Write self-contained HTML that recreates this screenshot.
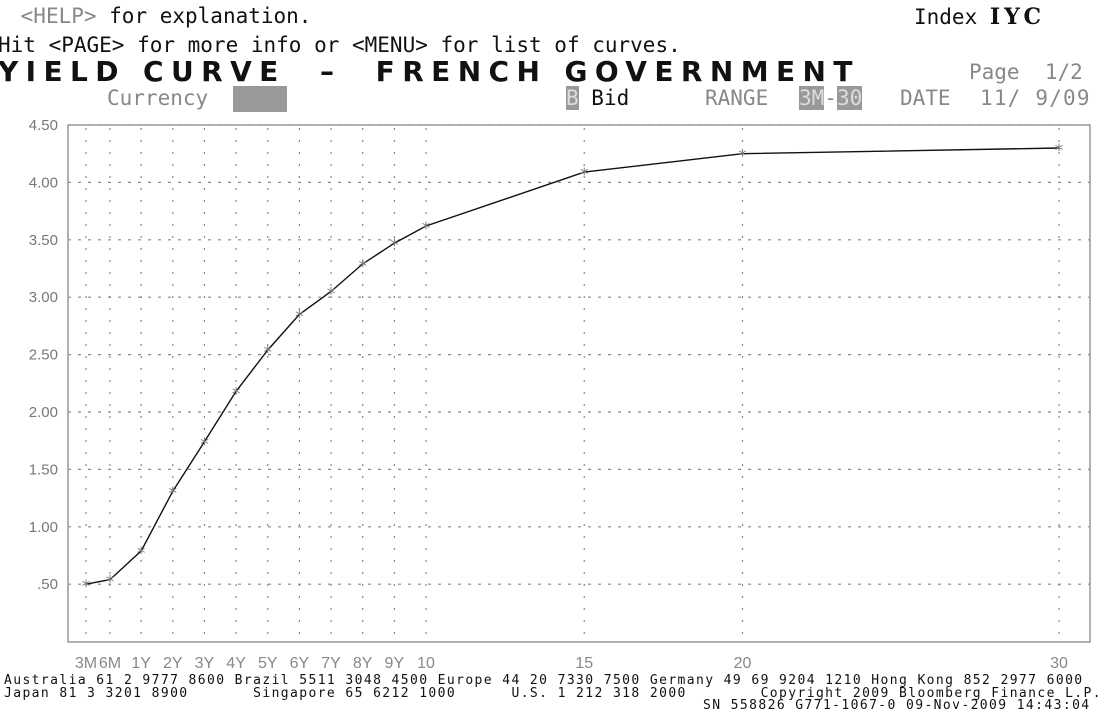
<!DOCTYPE html>
<html><head><meta charset="utf-8"><style>
body{margin:0;width:1098px;height:717px;background:#fff;overflow:hidden;position:relative;font-family:"DejaVu Sans Mono","Liberation Mono",monospace}
.t{position:absolute;white-space:pre;line-height:1}
.hd{font-size:21px;color:#111}
.gr{color:#888}
.title{font-family:"DejaVu Sans","Liberation Sans",sans-serif;font-weight:bold;font-size:28px;letter-spacing:7.4px;color:#111}
.ft{font-family:"DejaVu Sans Mono","Liberation Mono",monospace;font-size:13px;letter-spacing:1.4px;color:#111}
.hl{background:#999;color:#ddd}
</style></head><body>
<div class="t hd" style="left:8px;top:6px"> <span class="gr">&lt;HELP&gt;</span> for explanation.</div>
<div class="t hd" style="left:-2px;top:35px">Hit &lt;PAGE&gt; for more info or &lt;MENU&gt; for list of curves.</div>
<div class="t hd" style="left:914px;top:6px">Index <b style="font-family:'DejaVu Serif',serif;letter-spacing:4px;font-size:22px">IYC</b></div>
<div class="t title" style="left:-2px;top:58px">YIELD CURVE  –  FRENCH GOVERNMENT</div>
<div class="t hd gr" style="left:969px;top:62px">Page  1/2</div>
<div class="t hd gr" style="left:107px;top:88px">Currency</div>
<div style="position:absolute;left:233px;top:86px;width:54px;height:26px;background:#999"></div>
<div class="t hd" style="left:566px;top:88px"><span class="hl">B</span> Bid</div>
<div class="t hd gr" style="left:705px;top:88px">RANGE</div>
<div class="t hd gr" style="left:799px;top:88px"><span class="hl">3M</span>-<span class="hl">30</span></div>
<div class="t hd gr" style="left:900px;top:88px">DATE</div>
<div class="t hd gr" style="left:980px;top:88px;letter-spacing:1.2px">11/ 9/09</div>

<svg id="chart" width="1098" height="717" style="position:absolute;left:0;top:0"></svg>

<div class="t ft" style="left:4px;top:674px">Australia 61 2 9777 8600 Brazil 5511 3048 4500 Europe 44 20 7330 7500 Germany 49 69 9204 1210 Hong Kong 852 2977 6000</div>
<div class="t ft" style="left:4px;top:687px">Japan 81 3 3201 8900       Singapore 65 6212 1000      U.S. 1 212 318 2000        Copyright 2009 Bloomberg Finance L.P.</div>
<div class="t ft" style="left:703px;top:699px">SN 558826 G771-1067-0 09-Nov-2009 14:43:04</div>

<script>
const tenorLabels=["3M","6M","1Y","2Y","3Y","4Y","5Y","6Y","7Y","8Y","9Y","10","15","20","30"];
const tenorYears=[0.25,0.5,1,2,3,4,5,6,7,8,9,10,15,20,30];
const yields=[0.50,0.54,0.79,1.31,1.74,2.18,2.54,2.85,3.05,3.29,3.47,3.62,4.09,4.25,4.30];
const yTicks=[0.5,1,1.5,2,2.5,3,3.5,4,4.5];
const yTickLabels=[".50","1.00","1.50","2.00","2.50","3.00","3.50","4.00","4.50"];

const L=68,T=125,R=1090,B=642;
function xOf(t){
  if(t>=1) return 109.5+31.65*t;
  if(t>=0.5) return 110+(t-0.5)/0.5*(141-110);
  return 86+(t-0.25)/0.25*(110-86);
}
function yOf(v){return T+(4.5-v)*114.8;}
const NS="http://www.w3.org/2000/svg";
const svg=document.getElementById('chart');
function mk(tag,attrs){const e=document.createElementNS(NS,tag);for(const k in attrs)e.setAttribute(k,attrs[k]);svg.appendChild(e);return e;}

yTicks.forEach((v,i)=>{
  const g=mk('line',{x1:L,x2:R,y1:yOf(v),y2:yOf(v),stroke:'#888','stroke-width':1.2,'stroke-dasharray':'3,7'});
  
  
  const t=mk('text',{x:L-10,y:yOf(v)+5,'text-anchor':'end','font-family':'Liberation Sans, sans-serif','font-size':15,fill:'#777'});
  t.textContent=yTickLabels[i];
  
  
});
tenorYears.forEach((t,i)=>{
  const x=xOf(t);
  const g=mk('line',{x1:x,x2:x,y1:T+3,y2:B,stroke:'#888','stroke-width':1.2,'stroke-dasharray':'2,10'});
  
  
  const lb=mk('text',{x:x,y:668,'text-anchor':'middle','font-family':'Liberation Sans, sans-serif','font-size':16,fill:'#888'});
  lb.textContent=tenorLabels[i];
  
  
});
const frame=mk('path',{d:`M${L},${T}H${R}V${B}H${L}Z`,fill:'none',stroke:'#999','stroke-width':1.5});



const pts=tenorYears.map((t,i)=>xOf(t).toFixed(1)+','+yOf(yields[i]).toFixed(1)).join(' ');
const line=mk('polyline',{points:pts,fill:'none',stroke:'#111','stroke-width':1.4});


tenorYears.forEach((t,i)=>{
  const x=xOf(t),y=yOf(yields[i]);
  const m=mk('text',{x:x,y:y+8,'text-anchor':'middle','font-family':'DejaVu Sans, sans-serif','font-size':17,fill:'#777'});
  m.textContent='*';
  
  
});
</script>
</body></html>
